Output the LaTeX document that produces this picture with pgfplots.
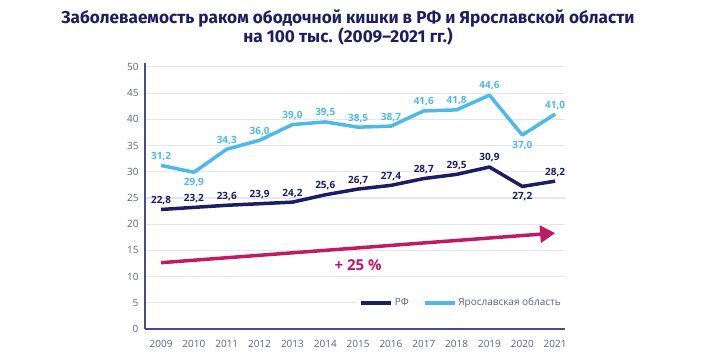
\documentclass[border=0pt]{standalone}
\usepackage{pgfplots}
\pgfplotsset{compat=1.18}
\usepackage{pgfplotstable}
\usepackage{fontspec}
\setmainfont{Open Sans}
\newfontfamily\titlefont{Fira Sans}
\usetikzlibrary{arrows.meta}
\definecolor{navy}{HTML}{1C1D62}
\definecolor{lblue}{HTML}{4DB9EA}
\definecolor{magen}{HTML}{BE1B62}
\definecolor{tick}{HTML}{5C5F86}
\definecolor{gridc}{HTML}{E4E5EE}
\definecolor{axc}{HTML}{4A4D85}

\pgfplotstableread{
year rf rfo yar yaro
2009 22.8 9 31.2 9
2010 23.2 9 29.9 -10
2011 23.6 9 34.3 9
2012 23.9 9 36.0 9
2013 24.2 9 39.0 9
2014 25.6 9 39.5 9
2015 26.7 9 38.5 9
2016 27.4 9 38.7 9
2017 28.7 9 41.6 9
2018 29.5 9 41.8 9
2019 30.9 9 44.6 10
2020 27.2 -10 37.0 -10
2021 28.2 9 41.0 9
}\data

\begin{document}
\begin{tikzpicture}
\begin{axis}[
  name=ax,
  scale only axis,
  width=420pt, height=266.3pt,
  xmin=2008.51, xmax=2021.3,
  ymin=0, ymax=50.8,
  xtick={2009,2010,...,2021},
  ytick={0,5,...,50},
  /pgf/number format/assume math mode=true,
  /pgf/number format/set thousands separator={},
  axis x line*=bottom, axis y line*=left,
  axis line style={axc, line width=1.2pt, -},
  major tick length=0pt,
  ymajorgrids,
  grid style={gridc, line width=1.2pt},
  tick label style={font=\fontsize{10}{12}\selectfont, text=tick},
  xticklabel style={yshift=-8pt},
  yticklabel style={xshift=-3pt},
  clip=false,
  legend style={at={(1,0.098)}, anchor=east, fill=white, draw=none,
    font=\fontsize{10}{12}\selectfont, text=tick, inner sep=2pt,
    /tikz/every even column/.append style={column sep=12pt}},
  legend columns=2,
  legend image code/.code={\draw[line width=3.5pt] (0pt,0pt) -- (30pt,0pt);},
]
\addplot[magen, line width=3.5pt, -{Triangle[length=15pt,width=17pt]}, forget plot]
  coordinates {(2009,12.65) (2021,18.3)};
\node[text=magen, font=\fontsize{15}{18}\selectfont\bfseries] at (axis cs:2015,12.1) {+ 25 \%};

\addplot[navy, line width=3.5pt, line join=round,
  nodes near coords={\pgfmathprintnumber[fixed,fixed zerofill,precision=1,use comma]{\pgfplotspointmeta}},
  visualization depends on={\thisrow{rfo} \as \off},
  every node near coord/.append style={anchor=center, yshift=\off pt, text=navy, font=\fontsize{10}{12}\selectfont\bfseries}]
  table[x=year, y=rf] {\data};
\addlegendentry{РФ}
\addplot[lblue, line width=3.5pt, line join=round,
  nodes near coords={\pgfmathprintnumber[fixed,fixed zerofill,precision=1,use comma]{\pgfplotspointmeta}},
  visualization depends on={\thisrow{yaro} \as \off},
  every node near coord/.append style={anchor=center, yshift=\off pt, text=lblue, font=\fontsize{10}{12}\selectfont\bfseries}]
  table[x=year, y=yar] {\data};
\addlegendentry{Ярославская область}
\end{axis}
\node[align=center, text=navy, font=\titlefont\fontsize{17.2}{19}\selectfont\bfseries]
  at ([xshift=203pt,yshift=35.7pt]ax.north west)
  {Заболеваемость раком ободочной кишки в РФ и Ярославской области\\на 100 тыс. (2009–2021 гг.)};
\path[use as bounding box] ([xshift=-145pt,yshift=-35pt]ax.south west) rectangle ([xshift=155pt,yshift=62.7pt]ax.north east);
\end{tikzpicture}
\end{document}
